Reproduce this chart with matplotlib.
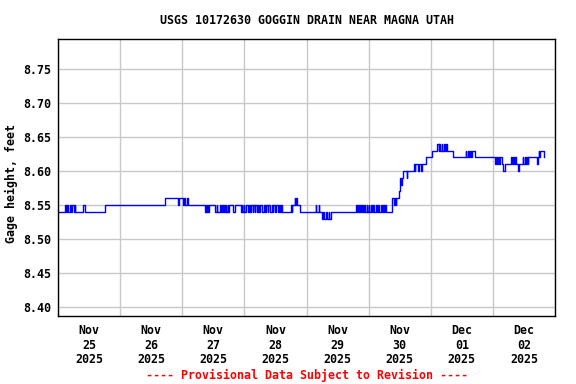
import numpy as np
import pandas as pd
import matplotlib
matplotlib.use("Agg")
import matplotlib.pyplot as plt
import matplotlib.dates as mdates

plt.rcParams.update({
    "font.family": "DejaVu Sans Mono",
    "font.weight": "bold",
    "axes.labelweight": "bold",
    "font.size": 8.4,
})

#############################################
# Data: step changes in gage height (hours after 2025-11-25 00:00)
#############################################
start = pd.Timestamp("2025-11-25 00:00")

hours = [
    0, 2.75, 3.25, 3.5, 4.0, 4.5, 5.0, 5.25, 6.0, 6.5, 6.75, 9.75, 10.5, 18.0,
    41.25, 46.25, 46.75, 48.25, 48.75, 49.25, 49.75, 50.25,
    56.75, 57.0, 57.25, 57.75, 58.0, 58.25,
    60.75, 61.25, 61.5, 62.75, 63.0, 63.5, 63.75, 64.0,
    64.5, 64.75, 65.0, 65.5, 65.75, 66.25, 67.5, 68.25,
    70.75, 71.0, 71.25, 71.75, 72.0, 72.75,
    73.5, 73.75, 74.25, 74.5, 75.25, 75.5, 76.0, 76.25, 77.0, 77.25, 77.75, 78.0,
    79.0, 79.5, 80.0, 80.25, 81.0, 81.25, 82.0, 82.5, 83.0, 83.25, 84.0, 84.25,
    85.0, 85.5, 85.75, 86.25, 86.5,
    90.0, 90.25, 90.5, 91.5, 91.75, 92.0, 92.25, 93.5,
    99.5, 99.75, 100.75, 101.0,
    102.0, 102.5, 102.75, 103.5, 103.75, 104.5, 104.75, 105.5,
    115.25, 115.5, 115.75, 116.25, 116.5, 117.0,
    117.5, 117.75, 118.25, 118.75,
    119.25, 119.5, 120.0, 120.25,
    121.0, 121.25, 121.75, 122.25,
    123.0, 123.25, 123.75, 124.0,
    124.75, 125.0, 125.5, 126.0, 126.25, 126.75,
    129.0, 129.75, 130.0, 130.5, 130.75, 131.75, 132.0, 132.25, 132.5, 132.75,
    133.25, 134.75, 135.0, 137.5, 137.75, 138.0, 139.0, 139.5, 140.25, 140.5,
    142.0, 144.5, 146.5, 147.0, 147.25, 147.75, 148.25, 148.5, 149.25, 149.5,
    149.75, 150.25, 152.75,
    157.5, 157.75, 158.25, 158.75, 159.25, 159.5, 160.0, 161.25,
    169.0, 169.25, 169.75, 170.0, 170.5, 170.75, 171.5, 172.0, 172.5,
    175.0, 175.25, 175.75, 176.25, 176.5, 176.75, 177.75, 178.25,
    179.5, 179.75, 180.25, 180.75, 181.0, 181.5, 181.75,
    185.0, 185.25, 185.75, 186.0, 186.25, 187.75,
]

gage_ft = [
    8.54, 8.55, 8.54, 8.55, 8.54, 8.55, 8.54, 8.55, 8.54, 8.55, 8.54, 8.55, 8.54, 8.55,
    8.56, 8.55, 8.56, 8.55, 8.56, 8.55, 8.56, 8.55,
    8.54, 8.55, 8.54, 8.55, 8.54, 8.55,
    8.54, 8.55, 8.54, 8.55, 8.54, 8.55, 8.54, 8.55,
    8.54, 8.55, 8.54, 8.55, 8.54, 8.55, 8.54, 8.55,
    8.54, 8.55, 8.54, 8.55, 8.54, 8.55,
    8.54, 8.55, 8.54, 8.55, 8.54, 8.55, 8.54, 8.55, 8.54, 8.55, 8.54, 8.55,
    8.54, 8.55, 8.54, 8.55, 8.54, 8.55, 8.54, 8.55, 8.54, 8.55, 8.54, 8.55,
    8.54, 8.55, 8.54, 8.55, 8.54,
    8.55, 8.54, 8.55, 8.56, 8.55, 8.56, 8.55, 8.54,
    8.55, 8.54, 8.55, 8.54,
    8.53, 8.54, 8.53, 8.54, 8.53, 8.54, 8.53, 8.54,
    8.55, 8.54, 8.55, 8.54, 8.55, 8.54,
    8.55, 8.54, 8.55, 8.54,
    8.55, 8.54, 8.55, 8.54,
    8.55, 8.54, 8.55, 8.54,
    8.55, 8.54, 8.55, 8.54,
    8.55, 8.54, 8.55, 8.54, 8.55, 8.54,
    8.56, 8.55, 8.56, 8.55, 8.56, 8.57, 8.58, 8.59, 8.58, 8.59,
    8.60, 8.59, 8.60, 8.61, 8.60, 8.61, 8.60, 8.61, 8.60, 8.61,
    8.62, 8.63, 8.64, 8.63, 8.64, 8.63, 8.64, 8.63, 8.64, 8.63,
    8.64, 8.63, 8.62,
    8.63, 8.62, 8.63, 8.62, 8.63, 8.62, 8.63, 8.62,
    8.61, 8.62, 8.61, 8.62, 8.61, 8.62, 8.61, 8.60, 8.61,
    8.62, 8.61, 8.62, 8.61, 8.62, 8.61, 8.60, 8.61,
    8.62, 8.61, 8.62, 8.61, 8.62, 8.61, 8.62,
    8.61, 8.62, 8.63, 8.62, 8.63, 8.62,
]

y_ticks = [8.40, 8.45, 8.50, 8.55, 8.60, 8.65, 8.70, 8.75]

times = start + pd.to_timedelta(hours, unit="h")

#############################################
# Plot
#############################################
fig = plt.figure(figsize=(5.76, 3.84), dpi=100)
ax = fig.add_axes([58 / 576, 1 - 316 / 384, 497 / 576, 277 / 384])

ax.step(times, gage_ft, where="post", color="#0000ff", linewidth=1.0)

ax.set_xlim(start, start + pd.Timedelta(days=8))
ax.set_ylim(8.3868, 8.7941)
ax.set_yticks(y_ticks)
ax.set_yticklabels([f"{v:.2f}" for v in y_ticks])

# day labels at noon, grid at midnight
noons = [start + pd.Timedelta(hours=12 + 24 * i) for i in range(8)]
ax.set_xticks(noons)
ax.set_xticklabels([d.strftime("%b\n%d\n%Y") for d in noons], linespacing=1.12)
ax.xaxis.set_minor_locator(mdates.DayLocator())
ax.tick_params(axis="both", which="both", length=0)
ax.tick_params(axis="x", pad=6)
ax.tick_params(axis="y", pad=5)

ax.grid(which="minor", axis="x", color="#c8c8c8", linewidth=1.0)
ax.grid(which="major", axis="y", color="#c8c8c8", linewidth=1.0)
ax.set_axisbelow(True)
for s in ax.spines.values():
    s.set_color("black")
    s.set_linewidth(1.0)

ax.set_ylabel("Gage height, feet", fontweight="bold")
ax.yaxis.set_label_coords((18 - 58) / 497, 0.48)

fig.text(307 / 576, 1 - 20 / 384, "USGS 10172630 GOGGIN DRAIN NEAR MAGNA UTAH",
         ha="center", va="center")
fig.text(307 / 576, 1 - 375 / 384, "---- Provisional Data Subject to Revision ----",
         ha="center", va="center", color="red")

plt.savefig("out.png", dpi=100)
plt.close()
